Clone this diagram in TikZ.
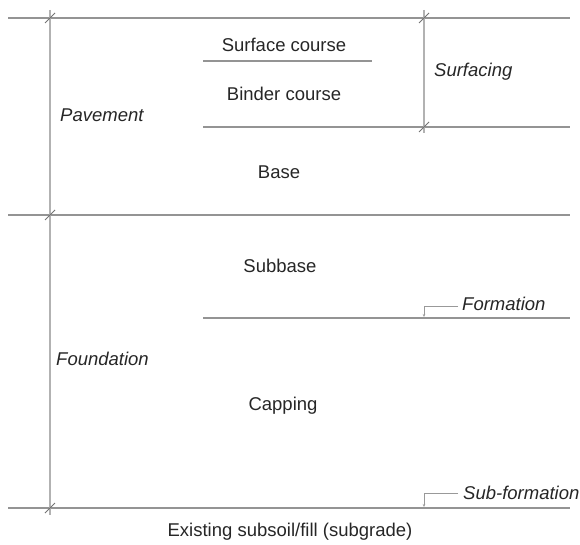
\documentclass[tikz,border=0pt]{standalone}
\usepackage{fontspec}
\setmainfont{Liberation Sans}
\usetikzlibrary{arrows.meta}

\begin{document}
\begin{tikzpicture}[x=1pt, y=-1pt,
    layer/.style={draw=black!42, line width=2.2pt},
    dimline/.style={draw=black!30, line width=1.5pt},
    tick/.style={draw=black!55, line width=0.9pt},
    leader/.style={draw=black!40, line width=1pt, -{Stealth[length=3pt,width=2.5pt]}},
    lbl/.style={inner sep=0pt, text=black!85, font=\fontsize{18.5}{22}\selectfont},
    ilbl/.style={lbl, font=\fontsize{18.5}{22}\selectfont\itshape}]
    \useasboundingbox (0,0) rectangle (580,545);
    % layer boundaries
    \coordinate (topL) at (8,18);    \coordinate (topR) at (570,18);
    \coordinate (surfL) at (203,61); \coordinate (surfR) at (372,61);
    \coordinate (bindL) at (203,127);\coordinate (bindR) at (570,127);
    \coordinate (baseL) at (8,215);  \coordinate (baseR) at (570,215);
    \coordinate (formL) at (203,318);\coordinate (formR) at (570,318);
    \coordinate (subL) at (8,508);   \coordinate (subR) at (570,508);
    \draw[layer] (topL) -- (topR);
    \draw[layer] (surfL) -- (surfR);
    \draw[layer] (bindL) -- (bindR);
    \draw[layer] (baseL) -- (baseR);
    \draw[layer] (formL) -- (formR);
    \draw[layer] (subL) -- (subR);
    % dimension lines
    \coordinate (pavA) at (50,10);   \coordinate (pavB) at (50,515);
    \coordinate (sfA) at (424,10);   \coordinate (sfB) at (424,133);
    \draw[dimline] (pavA) -- (pavB);
    \draw[dimline] (sfA) -- (sfB);
    \foreach \p in {(50,18), (50,215), (50,508), (424,18), (424,127)}
        \draw[tick, shift={\p}] (-5,5) -- (5,-5);
    % labels
    \node[lbl] (surface) at (284,45) {Surface course};
    \node[lbl] (binder) at (284,94) {Binder course};
    \node[lbl] (base) at (279,172) {Base};
    \node[lbl] (subbase) at (280,266) {Subbase};
    \node[lbl] (capping) at (283,406) {Capping};
    \node[lbl] (subgrade) at (290,532) {Existing subsoil/fill (subgrade)};
    \node[ilbl, anchor=west] (pavement) at (60,115) {Pavement};
    \node[ilbl, anchor=west] (foundation) at (56,359) {Foundation};
    \node[ilbl, anchor=west] (surfacing) at (434,72) {Surfacing};
    \node[ilbl, anchor=west] (formation) at (462,304) {Formation};
    \node[ilbl, anchor=west] (subform) at (463,493) {Sub-formation};
    % leaders
    \draw[leader] (formation.west) ++(-4,2) -| (424,317);
    \draw[leader] (subform.west) ++(-5,0) -| (424,507);
\end{tikzpicture}
\end{document}
